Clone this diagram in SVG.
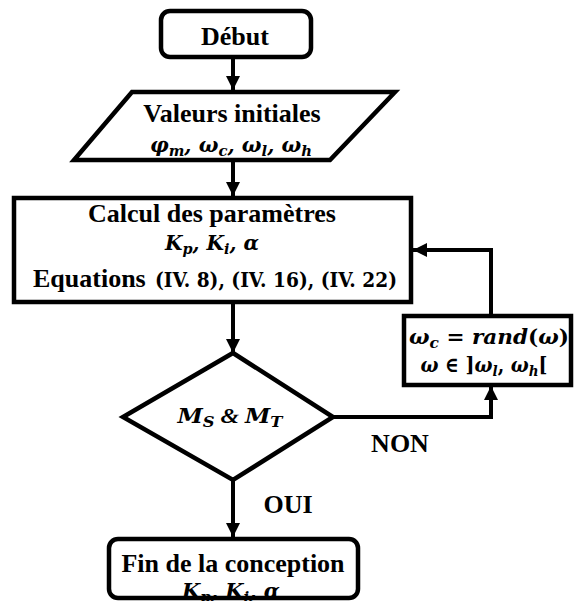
<svg xmlns="http://www.w3.org/2000/svg" width="574" height="601" viewBox="0 0 574 601">
  <style>
    .box { fill: #fff; stroke: #000; stroke-width: 4.5; stroke-linejoin: miter; }
    .line { fill: none; stroke: #000; stroke-width: 4; }
    .t { font-family: "Liberation Serif", "Times New Roman", serif; font-weight: bold; font-size: 26px; fill: #000; }
    .m { font-family: "DejaVu Serif", "Liberation Serif", serif; font-weight: bold; font-style: italic; font-size: 21px; fill: #000; }
    .mu { font-family: "DejaVu Serif", "Liberation Serif", serif; font-weight: bold; font-style: normal; font-size: 21px; fill: #000; }
    .sub { font-size: 15px; }
  </style>
  <defs>
    <marker id="arrow" markerUnits="userSpaceOnUse" markerWidth="16" markerHeight="16" viewBox="0 0 16 16" refX="14" refY="8" orient="auto">
      <path d="M0,1 L14,8 L0,15 Z" fill="#000"/>
    </marker>
  </defs>

  <!-- connectors -->
  <g id="connectors">
    <line class="line" x1="233" y1="57" x2="233" y2="90" marker-end="url(#arrow)"/>
    <line class="line" x1="233" y1="160" x2="233" y2="196" marker-end="url(#arrow)"/>
    <line class="line" x1="233" y1="302" x2="233" y2="353" marker-end="url(#arrow)"/>
    <polyline class="line" points="333,417 491,417 491,386" marker-end="url(#arrow)"/>
    <polyline class="line" points="491,315 491,250 413,250" marker-end="url(#arrow)"/>
    <line class="line" x1="233" y1="480" x2="233" y2="537" marker-end="url(#arrow)"/>
    <text class="t" x="400" y="452" text-anchor="middle">NON</text>
    <text class="t" x="288" y="513" text-anchor="middle">OUI</text>
  </g>

  <!-- start -->
  <g id="debut">
    <rect class="box" x="161" y="11" width="150" height="46" rx="9"/>
    <text class="t" x="235" y="45" text-anchor="middle">Début</text>
  </g>

  <!-- initial values -->
  <g id="valeurs">
    <polygon class="box" points="132,92 395,92 330,160 74,160"/>
    <text class="t" x="232" y="122" text-anchor="middle">Valeurs initiales</text>
    <text class="m" x="231" y="152" text-anchor="middle" textLength="162" lengthAdjust="spacingAndGlyphs">φ<tspan class="sub" dy="4">m</tspan><tspan dy="-4">, ω</tspan><tspan class="sub" dy="4">c</tspan><tspan dy="-4">, ω</tspan><tspan class="sub" dy="4">l</tspan><tspan dy="-4">, ω</tspan><tspan class="sub" dy="4">h</tspan></text>
  </g>

  <!-- parameter computation -->
  <g id="calcul">
    <rect class="box" x="14" y="198" width="397" height="104"/>
    <text class="t" x="212" y="222" text-anchor="middle">Calcul des paramètres</text>
    <text class="m" x="212" y="250" text-anchor="middle" textLength="94" lengthAdjust="spacingAndGlyphs">K<tspan class="sub" dy="4">p</tspan><tspan dy="-4">, K</tspan><tspan class="sub" dy="4">i</tspan><tspan dy="-4">, α</tspan></text>
    <text class="t" x="33" y="287">Equations </text>
    <text class="mu" x="155" y="287" textLength="242" lengthAdjust="spacingAndGlyphs">(IV. 8), (IV. 16), (IV. 22)</text>
  </g>

  <!-- random update -->
  <g id="aleatoire">
    <rect class="box" x="404" y="316" width="167" height="69"/>
    <text class="m" x="489" y="344" text-anchor="middle" textLength="160" lengthAdjust="spacingAndGlyphs">ω<tspan class="sub" dy="4">c</tspan><tspan class="mu" dy="-4"> = </tspan>rand<tspan class="mu">(</tspan>ω<tspan class="mu">)</tspan></text>
    <text class="m" x="484" y="372" text-anchor="middle" textLength="127" lengthAdjust="spacingAndGlyphs">ω<tspan class="mu"> ∈ ]</tspan>ω<tspan class="sub" dy="4">l</tspan><tspan class="mu" dy="-4">, </tspan>ω<tspan class="sub" dy="4">h</tspan><tspan class="mu" dy="-4">[</tspan></text>
  </g>

  <!-- decision -->
  <g id="decision">
    <polygon class="box" points="233,353 333,417 233,480 123,417"/>
    <text class="m" x="230" y="423" text-anchor="middle" textLength="105" lengthAdjust="spacingAndGlyphs">M<tspan class="sub" dy="4">S</tspan><tspan class="t" dy="-4" style="font-size:22px"> &amp; </tspan>M<tspan class="sub" dy="4">T</tspan></text>
  </g>

  <!-- end -->
  <g id="fin">
    <rect class="box" x="109" y="539" width="249" height="59" rx="9"/>
    <text class="t" x="233" y="572" text-anchor="middle">Fin de la conception</text>
    <text class="m" x="231" y="598" text-anchor="middle" textLength="98" lengthAdjust="spacingAndGlyphs">K<tspan class="sub" dy="4">p</tspan><tspan dy="-4">, K</tspan><tspan class="sub" dy="4">i</tspan><tspan dy="-4">, α</tspan></text>
  </g>
</svg>
